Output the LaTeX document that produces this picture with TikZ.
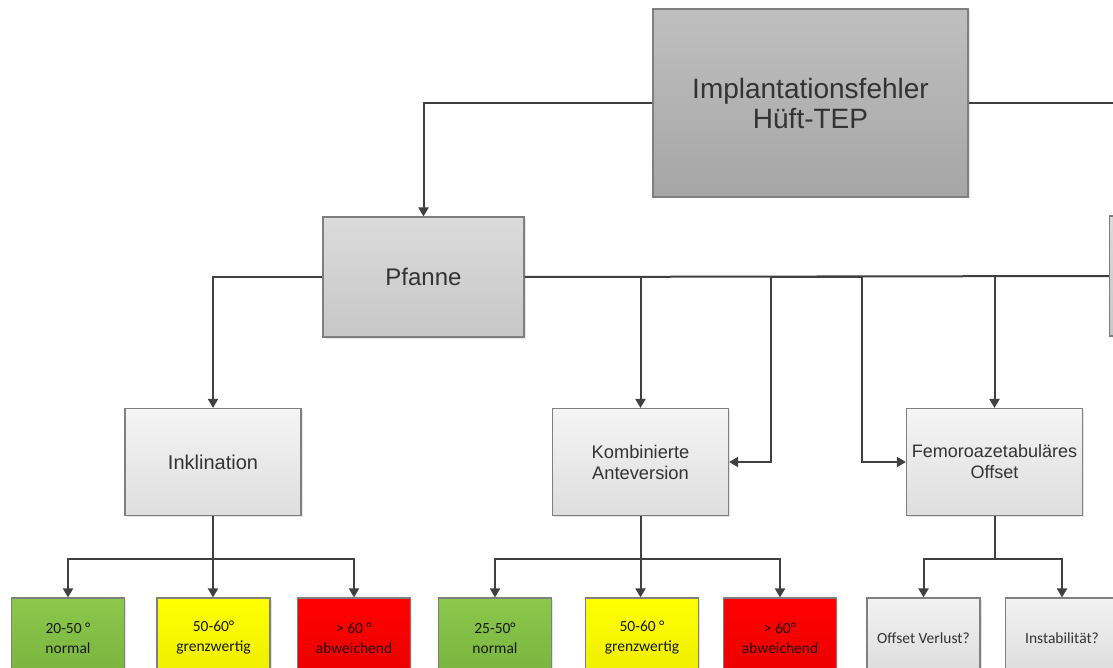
\documentclass[tikz,border=0pt]{standalone}
\usepackage{fontspec}
\setmainfont{Liberation Sans}
\newfontfamily\calfont{Carlito}
\usetikzlibrary{arrows.meta,shadows}
\definecolor{linec}{HTML}{404040}
\definecolor{bordc}{HTML}{7F7F7F}
\definecolor{txtc}{HTML}{333333}
\definecolor{leafgreen}{HTML}{8CC84B}
\definecolor{leafgreendark}{HTML}{78B43F}
\tikzset{
  box/.style={draw=bordc, line width=1.2pt, inner sep=2pt, align=center, text=txtc,
    drop shadow={shadow xshift=1.5pt, shadow yshift=-1.5pt, opacity=0.2}},
  topbox/.style={box, top color=white!75!black, bottom color=white!65!black,
    minimum width=315pt, minimum height=188pt,
    font=\fontsize{28}{30}\selectfont},
  midbox/.style={box, top color=white!86!black, bottom color=white!78!black,
    minimum width=201pt, minimum height=120pt,
    font=\fontsize{24}{28}\selectfont},
  lowbox/.style={box, top color=white!96!black, bottom color=white!87!black,
    minimum width=176pt, minimum height=107pt},
  leafbox/.style={box, minimum width=113pt, minimum height=80pt, text=black!90,
    font=\calfont\fontsize{15.5}{20}\selectfont},
  greenbox/.style={leafbox, top color=leafgreen, bottom color=leafgreendark},
  yellowbox/.style={leafbox, top color=yellow, bottom color=yellow!93!black},
  redbox/.style={leafbox, top color=red, bottom color=red!92!black, text=black!85!red},
  graybox/.style={leafbox, top color=white!95!black, bottom color=white!86!black, text=txtc},
  conn/.style={draw=linec, line width=2pt},
  arr/.style={conn, -{Triangle[length=9pt,width=10pt]}}
}
\begin{document}
\begin{tikzpicture}[x=1pt,y=-1pt]
\useasboundingbox (0,0) rectangle (1113,668);
\clip (0,0) rectangle (1113,668);
\fill[white] (0,0) rectangle (1113,668);

% nodes
\node[topbox] (top) at (810.5,103) {Implantationsfehler\\Hüft-TEP};
\node[midbox] (pfanne) at (423.5,277) {Pfanne};
\node[midbox] (rightbox) at (1210,276) {};
\node[lowbox, font=\fontsize{20}{24}\selectfont] (inkl) at (213,462) {Inklination};
\node[lowbox, font=\fontsize{18.3}{21}\selectfont] (komb) at (640.5,462) {Kombinierte\\Anteversion};
\node[lowbox, font=\fontsize{18}{21}\selectfont] (femoro) at (994.5,462) {Femoroazetabuläres\\Offset};

\node[greenbox] (g1) at (68,638) {20-50 °\\normal};
\node[yellowbox] (y1) at (213.5,638) {50-60°\\grenzwertig};
\node[redbox] (r1) at (354,638) {> 60 °\\abweichend};
\node[greenbox] (g2) at (495,638) {25-50°\\normal};
\node[yellowbox] (y2) at (642,638) {50-60 °\\grenzwertig};
\node[redbox] (r2) at (780,638) {> 60°\\abweichend};
\node[graybox] (off) at (923.5,638) {Offset Verlust?};
\node[graybox] (ins) at (1062,638) {Instabilität?};

% coordinates
\coordinate (rt) at (1120,103);
\coordinate (j1) at (771,277);
\coordinate (j2) at (862,277);
\coordinate (h1) at (213,559);
\coordinate (h2) at (640.5,559);
\coordinate (h3) at (994.5,559);

% connectors
\draw[arr] (top.west) -| (pfanne.north);
\draw[conn] (top.east) -- (rt);
\draw[arr] (pfanne.west) -| (inkl.north);
\draw[conn] (pfanne.east) -- (rightbox.west);
\draw[arr] (komb.north |- pfanne.east) -- (komb.north);
\draw[arr] (femoro.north |- pfanne.east) -- (femoro.north);
\draw[conn] (j1) -- (j2);
\draw[arr] (j1) |- (komb.east);
\draw[arr] (j2) |- (femoro.west);

\draw[conn] (inkl.south) -- (h1);
\draw[arr] (h1) -| (g1.north);
\draw[arr] (h1) -- (y1.north -| h1);
\draw[arr] (h1) -| (r1.north);

\draw[conn] (komb.south) -- (h2);
\draw[arr] (h2) -| (g2.north);
\draw[arr] (h2) -- (y2.north -| h2);
\draw[arr] (h2) -| (r2.north);

\draw[conn] (femoro.south) -- (h3);
\draw[arr] (h3) -| (off.north);
\draw[arr] (h3) -| (ins.north);
\end{tikzpicture}
\end{document}
